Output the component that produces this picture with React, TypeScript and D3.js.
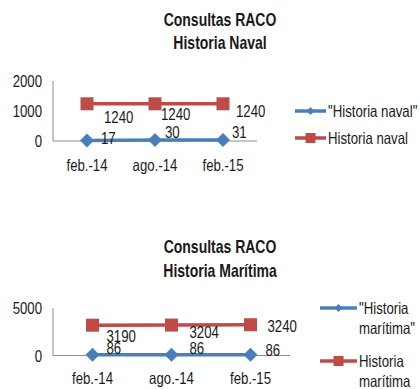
import React from "react";
import * as d3 from "d3";

const categories = ["feb.-14", "ago.-14", "feb.-15"];

const navalTitle = ["Consultas RACO", "Historia Naval"];
const navalBlueName = ["\"Historia naval\""];
const navalRedName = ["Historia naval"];
const navalBlue = [17, 30, 31];
const navalRed = [1240, 1240, 1240];
const navalTicks = [0, 1000, 2000];

const maritTitle = ["Consultas RACO", "Historia Marítima"];
const maritBlueName = ["\"Historia", "marítima\""];
const maritRedName = ["Historia", "marítima"];
const maritBlue = [86, 86, 86];
const maritRed = [3190, 3204, 3240];
const maritTicks = [0, 5000];

const BLUE = "#4A7EBB";
const RED = "#BE4B48";
const AXIS = "#8C8C8C";
const FONT = "'Liberation Sans', Arial, sans-serif";
const SX = 0.8;

function T({ x, y, children, anchor = "start", size = 16.5, bold = false, sx = SX }: any) {
  return (
    <text transform={`translate(${x},${y}) scale(${sx},1)`} textAnchor={anchor} dominantBaseline="central"
      fontFamily={FONT} fontSize={size} fontWeight={bold ? "bold" : "normal"} fill="#1a1a1a">
      {children}
    </text>
  );
}

type ChartProps = {
  title: string[];
  titleY: number[];
  blue: number[];
  red: number[];
  ticks: number[];
  yMax: number;
  yRange: [number, number];
  xRange: [number, number];
  blueOff: [number, number][];
  redOff: [number, number][];
  legendX: [number, number];
  blueName: string[];
  redName: string[];
  blueLegY: number;
  redLegY: number;
  xLabelY: number;
};

function Diamond({ x, y, r, fill }: { x: number; y: number; r: number; fill: string }) {
  return <path d={`M${x},${y - r}L${x + r},${y}L${x},${y + r}L${x - r},${y}Z`} fill={fill} />;
}

function Chart(p: ChartProps) {
  const x = d3.scaleBand<string>().domain(categories).range(p.xRange).padding(0);
  const y = d3.scaleLinear().domain([0, p.yMax]).range(p.yRange);
  const cx = (c: string) => (x(c) as number) + x.bandwidth() / 2;
  const line = d3
    .line<number>()
    .x((_, i) => cx(categories[i]))
    .y((d) => y(d));
  return (
    <g>
      {p.title.map((t, i) => (
        <T key={t} x={220} y={p.titleY[i]} anchor="middle" size={17.5} bold sx={0.8}>
          {t}
        </T>
      ))}
      {p.ticks.map((t) => (
        <T key={t} x={42} y={y(t)} anchor="end">
          {t}
        </T>
      ))}
      <line x1={p.xRange[0]} x2={p.xRange[0]} y1={y(p.yMax)} y2={y(0)} stroke={AXIS} strokeWidth={1} />
      <line x1={p.xRange[0]} x2={p.xRange[1]} y1={y(0)} y2={y(0)} stroke={AXIS} strokeWidth={1} />
      {categories.map((c) => (
        <T key={c} x={cx(c)} y={p.xLabelY} anchor="middle">
          {c}
        </T>
      ))}
      <path d={line(p.red) || ""} fill="none" stroke={RED} strokeWidth={3.5} />
      {p.red.map((v, i) => (
        <rect key={i} x={cx(categories[i]) - 6.5} y={y(v) - 6.5} width={13} height={13} fill={RED} />
      ))}
      <path d={line(p.blue) || ""} fill="none" stroke={BLUE} strokeWidth={3.5} />
      {p.blue.map((v, i) => (
        <Diamond key={i} x={cx(categories[i])} y={y(v)} r={7} fill={BLUE} />
      ))}
      {p.red.map((v, i) => (
        <T key={i} x={cx(categories[i]) + p.redOff[i][0]} y={y(v) + p.redOff[i][1]}>
          {v}
        </T>
      ))}
      {p.blue.map((v, i) => (
        <T key={i} x={cx(categories[i]) + p.blueOff[i][0]} y={y(v) + p.blueOff[i][1]}>
          {v}
        </T>
      ))}
      <line x1={p.legendX[0]} x2={p.legendX[1]} y1={p.blueLegY} y2={p.blueLegY} stroke={BLUE} strokeWidth={3.5} />
      <Diamond x={(p.legendX[0] + p.legendX[1]) / 2} y={p.blueLegY} r={4} fill={BLUE} />
      {p.blueName.map((t, i) => (
        <T key={t} x={p.legendX[1] + 2} y={p.blueLegY + i * 20}>
          {t}
        </T>
      ))}
      <line x1={p.legendX[0]} x2={p.legendX[1]} y1={p.redLegY} y2={p.redLegY} stroke={RED} strokeWidth={3.5} />
      <rect x={(p.legendX[0] + p.legendX[1]) / 2 - 5} y={p.redLegY - 5} width={10} height={10} fill={RED} />
      {p.redName.map((t, i) => (
        <T key={t} x={p.legendX[1] + 2} y={p.redLegY + i * 20}>
          {t}
        </T>
      ))}
    </g>
  );
}

export default function App() {
  return (
    <svg width={420} height={389} style={{ position: "absolute", left: 0, top: 0, background: "#fff" }}>
      <rect width={420} height={389} fill="#fff" />
      <Chart
        title={navalTitle}
        titleY={[20, 43]}
        blue={navalBlue}
        red={navalRed}
        ticks={navalTicks}
        yMax={2000}
        yRange={[141, 81]}
        xRange={[53, 257]}
        redOff={[[17, 13], [6, 10], [13, 7]]}
        blueOff={[[14, -3], [10, -8], [9, -8.5]]}
        legendX={[295, 326]}
        blueName={navalBlueName}
        redName={navalRedName}
        blueLegY={111}
        redLegY={138}
        xLabelY={165}
      />
      <Chart
        title={maritTitle}
        titleY={[247, 271]}
        blue={maritBlue}
        red={maritRed}
        ticks={maritTicks}
        yMax={5000}
        yRange={[355.5, 308]}
        xRange={[53, 290]}
        redOff={[[14, 11], [18, 7], [17, 1]]}
        blueOff={[[14, -7], [18, -7], [15, -5]]}
        legendX={[320, 357]}
        blueName={maritBlueName}
        redName={maritRedName}
        blueLegY={308}
        redLegY={361}
        xLabelY={378}
      />
    </svg>
  );
}
